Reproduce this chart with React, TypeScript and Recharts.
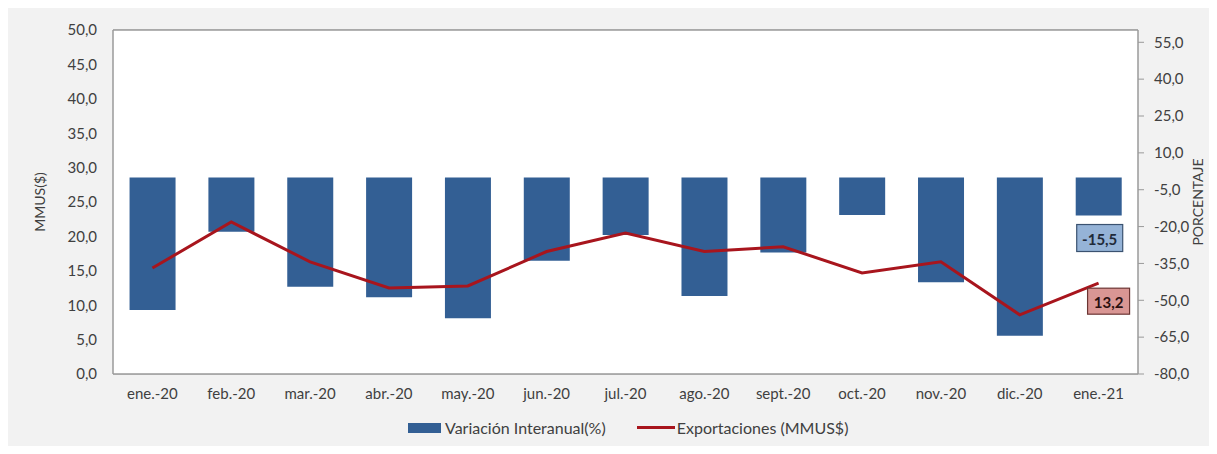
import React from 'react';
import {
  ComposedChart,
  Bar,
  Line,
  XAxis,
  YAxis,
  CartesianGrid,
  Legend,
  LabelList,
  ReferenceLine,
} from 'recharts';

const MONTHS = [
  'ene.-20', 'feb.-20', 'mar.-20', 'abr.-20', 'may.-20', 'jun.-20', 'jul.-20',
  'ago.-20', 'sept.-20', 'oct.-20', 'nov.-20', 'dic.-20', 'ene.-21',
];
// Variación interanual (%), right axis
const VARIACION = [-54.0, -22.1, -44.5, -48.8, -57.3, -33.9, -23.4, -48.3, -30.6, -15.3, -42.7, -64.4, -15.5];
// Exportaciones (MMUS$), left axis
const EXPORTACIONES = [15.4, 22.1, 16.3, 12.5, 12.8, 17.8, 20.5, 17.8, 18.5, 14.7, 16.3, 8.6, 13.2];

const LEFT_TICKS = [0, 5, 10, 15, 20, 25, 30, 35, 40, 45, 50];
const RIGHT_TICKS = [-80, -65, -50, -35, -20, -5, 10, 25, 40, 55];

const BLUE = '#335f94';
const RED = '#a8151d';
const TEXT = '#404040';
const AXIS = '#9a9a9a';
const FONT = 'Lato, "Open Sans", sans-serif';

const fmt = (v: number) => v.toFixed(1).replace('.', ',');

const data = MONTHS.map((m, i) => ({
  mes: m,
  variacion: VARIACION[i],
  exportaciones: EXPORTACIONES[i],
}));

const last = MONTHS.length - 1;

function BarTag(props: any) {
  const { x, y, width, height, index, value } = props;
  if (index !== last) return null;
  const cx = x + width / 2 + 1;
  const bottom = Math.max(y, y + height);
  const top = bottom + 9;
  return (
    <g>
      <rect x={cx - 23} y={top} width={46} height={27} fill="#95b3d7" stroke="#3a5270" strokeWidth={1.2} />
      <text x={cx} y={top + 14} textAnchor="middle" dominantBaseline="central" fill="#1f2a3a"
        fontSize={15} fontWeight={700} fontFamily={FONT}>{fmt(value)}</text>
    </g>
  );
}

function LineTag(props: any) {
  const { x, y, index, value } = props;
  if (index !== last) return null;
  const cx = x + 10;
  const top = y + 5;
  return (
    <g>
      <rect x={cx - 21} y={top} width={42} height={26} fill="#d99694" stroke="#6b3533" strokeWidth={1.2} />
      <text x={cx} y={top + 13.5} textAnchor="middle" dominantBaseline="central" fill="#2a1010"
        fontSize={15} fontWeight={700} fontFamily={FONT}>{fmt(value)}</text>
    </g>
  );
}

function LegendContent() {
  return (
    <div style={{ display: 'flex', alignItems: 'center', fontFamily: FONT, fontSize: 16, color: TEXT, whiteSpace: 'nowrap' }}>
      <span style={{ display: 'inline-block', width: 33, height: 10, background: BLUE, marginRight: 4 }} />
      <span style={{ marginRight: 31 }}>Variación Interanual(%)</span>
      <span style={{ display: 'inline-block', width: 38, height: 3, background: RED, marginRight: 2 }} />
      <span>Exportaciones (MMUS$)</span>
    </div>
  );
}

export default function App() {
  return (
    <div style={{ margin: -8, width: 1217, height: 454, position: 'relative', background: '#ffffff' }}>
      <div style={{ position: 'absolute', left: 5, top: 3, width: 1212, height: 450, background: '#f2f2f2' }} />
      <div style={{ position: 'absolute', left: 0, top: 0 }}>
        <ComposedChart
          width={1217}
          height={454}
          data={data}
          margin={{ top: 30, right: 0, bottom: 40, left: 13 }}
          barCategoryGap="21%"
        >
          <rect x={113} y={30} width={1025} height={344} fill="#ffffff" />
          <CartesianGrid yAxisId="left" vertical={false} stroke="#cdcdcd" strokeWidth={1.3} />
          <XAxis
            dataKey="mes"
            tickLine={false}
            tickSize={0}
            tickMargin={14}
            axisLine={{ stroke: AXIS, strokeWidth: 1.5 }}
            tick={{ fill: TEXT, fontSize: 15, fontFamily: FONT }}
            interval={0}
            height={40}
          />
          <YAxis
            yAxisId="left"
            domain={[0, 50]}
            ticks={LEFT_TICKS}
            tickFormatter={fmt}
            tickLine={false}
            tickSize={0}
            tickMargin={16}
            width={100}
            axisLine={{ stroke: AXIS, strokeWidth: 1.5 }}
            tick={{ fill: TEXT, fontSize: 15, fontFamily: FONT }}
            label={{
              value: 'MMUS($)', angle: -90, position: 'insideLeft', offset: 27,
              style: { fill: TEXT, fontSize: 14, fontFamily: FONT, textAnchor: 'middle' },
            }}
          />
          <YAxis
            yAxisId="right"
            orientation="right"
            domain={[-80, 60]}
            ticks={RIGHT_TICKS}
            tickFormatter={fmt}
            tickLine={{ stroke: AXIS }}
            tickSize={6}
            tickMargin={10}
            width={79}
            axisLine={{ stroke: AXIS, strokeWidth: 1.5 }}
            tick={{ fill: TEXT, fontSize: 15, fontFamily: FONT, textAnchor: 'start' }}
            label={{
              value: 'PORCENTAJE', angle: -90, position: 'insideRight', offset: 19,
              style: { fill: TEXT, fontSize: 14, fontFamily: FONT, textAnchor: 'middle' },
            }}
          />
          <ReferenceLine yAxisId="left" y={50} stroke={AXIS} strokeWidth={1.5} />
          <Bar yAxisId="right" dataKey="variacion" fill={BLUE} isAnimationActive={false}>
            <LabelList dataKey="variacion" content={<BarTag />} />
          </Bar>
          <Line
            yAxisId="left"
            dataKey="exportaciones"
            stroke={RED}
            strokeWidth={3}
            dot={false}
            activeDot={false}
            isAnimationActive={false}
          >
            <LabelList dataKey="exportaciones" content={<LineTag />} />
          </Line>
          <Legend
            layout="horizontal"
            verticalAlign="middle"
            align="center"
            content={<LegendContent />}
            wrapperStyle={{ position: 'absolute', top: 418, left: 408, width: 'auto' }}
          />
        </ComposedChart>
      </div>
    </div>
  );
}
